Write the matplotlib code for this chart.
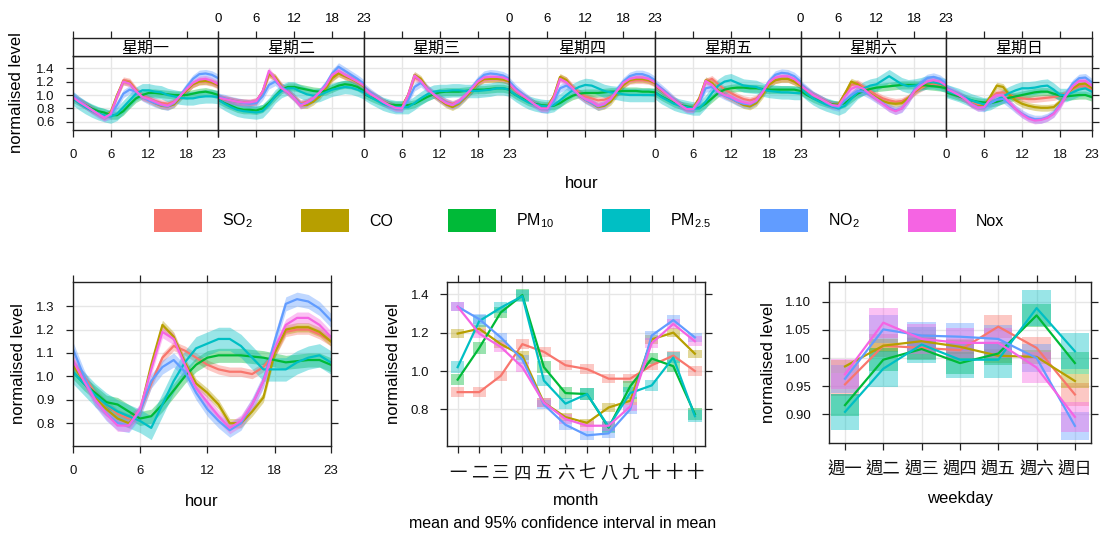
import matplotlib.pyplot as plt
from matplotlib.patches import Rectangle
import numpy as np

plt.rcParams['font.family'] = ['Liberation Sans', 'Noto Sans CJK TC', 'DejaVu Sans']
plt.rcParams['mathtext.default'] = 'regular'

# Pollutants and the hue palette used for them
pollutants = ['SO2', 'CO', 'PM10', 'PM2.5', 'NO2', 'Nox']
legend_labels = [r'SO$_2$', 'CO', r'PM$_{10}$', r'PM$_{2.5}$', r'NO$_2$', 'Nox']
colours = ['#F8766D', '#B79F00', '#00BA38', '#00BFC4', '#619CFF', '#F564E3']

hours = list(range(24))
day_names = ['星期一', '星期二', '星期三', '星期四', '星期五', '星期六', '星期日']
month_labels = ['一', '二', '三', '四', '五', '六', '七', '八', '九', '十', '十', '十']
weekday_labels = ['週一', '週二', '週三', '週四', '週五', '週六', '週日']

# Normalised level by hour of day, one 24-value list per weekday (Mon..Sun)
so2_by_day = [
    [0.98, 0.92, 0.86, 0.80, 0.74, 0.69, 0.74, 0.98, 1.22, 1.20, 1.08, 0.99, 0.95, 0.91, 0.88, 0.87, 0.90, 0.98, 1.08, 1.16, 1.20, 1.20, 1.18, 1.14],
    [0.96, 0.94, 0.92, 0.90, 0.89, 0.89, 0.91, 1.04, 1.30, 1.26, 1.14, 1.06, 0.97, 0.88, 0.90, 0.95, 1.02, 1.12, 1.26, 1.33, 1.28, 1.24, 1.19, 1.13],
    [1.10, 1.03, 0.97, 0.91, 0.86, 0.83, 0.83, 1.00, 1.26, 1.22, 1.10, 1.02, 0.96, 0.90, 0.87, 0.90, 0.98, 1.07, 1.18, 1.23, 1.24, 1.24, 1.23, 1.20],
    [1.15, 1.06, 1.00, 0.93, 0.87, 0.83, 0.83, 0.98, 1.26, 1.22, 1.12, 1.04, 0.98, 0.95, 0.92, 0.93, 0.97, 1.05, 1.15, 1.21, 1.22, 1.22, 1.21, 1.17],
    [1.14, 1.07, 1.00, 0.93, 0.86, 0.81, 0.81, 0.95, 1.20, 1.24, 1.16, 1.08, 1.03, 0.98, 0.94, 0.92, 0.95, 1.04, 1.15, 1.22, 1.24, 1.24, 1.20, 1.14],
    [1.13, 1.06, 1.00, 0.95, 0.90, 0.85, 0.86, 1.02, 1.15, 1.18, 1.12, 1.06, 1.00, 0.95, 0.92, 0.90, 0.91, 0.96, 1.04, 1.10, 1.15, 1.17, 1.15, 1.10],
    [1.08, 1.04, 1.00, 0.95, 0.89, 0.85, 0.86, 0.95, 1.03, 1.04, 1.00, 0.97, 0.95, 0.94, 0.94, 0.95, 0.96, 0.97, 0.99, 1.03, 1.09, 1.13, 1.13, 1.08],
]
co_by_day = [
    [0.98, 0.90, 0.84, 0.78, 0.73, 0.68, 0.74, 1.00, 1.20, 1.18, 1.06, 0.97, 0.93, 0.88, 0.84, 0.83, 0.86, 0.96, 1.07, 1.16, 1.20, 1.21, 1.19, 1.15],
    [0.96, 0.94, 0.92, 0.90, 0.89, 0.88, 0.90, 1.05, 1.32, 1.26, 1.12, 1.04, 0.96, 0.85, 0.85, 0.90, 0.98, 1.10, 1.25, 1.32, 1.28, 1.24, 1.19, 1.13],
    [1.10, 1.02, 0.96, 0.90, 0.86, 0.82, 0.82, 1.00, 1.30, 1.24, 1.10, 1.00, 0.93, 0.86, 0.82, 0.87, 0.96, 1.06, 1.18, 1.24, 1.24, 1.24, 1.23, 1.20],
    [1.16, 1.07, 1.00, 0.93, 0.87, 0.82, 0.82, 0.98, 1.27, 1.22, 1.10, 1.00, 0.93, 0.88, 0.82, 0.84, 0.90, 1.02, 1.15, 1.22, 1.24, 1.24, 1.22, 1.18],
    [1.14, 1.07, 1.00, 0.92, 0.85, 0.80, 0.80, 0.95, 1.22, 1.18, 1.07, 1.00, 0.95, 0.90, 0.85, 0.83, 0.88, 1.00, 1.15, 1.22, 1.24, 1.24, 1.20, 1.14],
    [1.13, 1.06, 1.00, 0.95, 0.90, 0.86, 0.86, 1.02, 1.20, 1.16, 1.08, 1.02, 0.96, 0.91, 0.88, 0.87, 0.88, 0.95, 1.05, 1.12, 1.17, 1.19, 1.17, 1.12],
    [1.08, 1.04, 1.00, 0.94, 0.87, 0.83, 0.84, 0.98, 1.14, 1.12, 1.00, 0.92, 0.87, 0.84, 0.82, 0.81, 0.81, 0.82, 0.90, 1.00, 1.10, 1.16, 1.17, 1.11],
]
pm10_by_day = [
    [0.95, 0.90, 0.85, 0.80, 0.76, 0.74, 0.70, 0.70, 0.76, 0.86, 0.95, 1.00, 1.03, 1.03, 1.02, 1.01, 1.00, 1.00, 1.00, 1.02, 1.04, 1.05, 1.03, 1.00],
    [0.93, 0.88, 0.84, 0.80, 0.78, 0.78, 0.77, 0.80, 0.88, 0.98, 1.08, 1.12, 1.12, 1.10, 1.08, 1.06, 1.05, 1.06, 1.10, 1.14, 1.16, 1.15, 1.12, 1.06],
    [1.02, 0.97, 0.93, 0.89, 0.86, 0.85, 0.85, 0.85, 0.87, 0.92, 0.97, 1.01, 1.04, 1.05, 1.05, 1.05, 1.06, 1.07, 1.08, 1.08, 1.09, 1.10, 1.10, 1.08],
    [1.06, 1.00, 0.95, 0.90, 0.87, 0.85, 0.84, 0.84, 0.88, 0.94, 0.99, 1.02, 1.03, 1.03, 1.03, 1.04, 1.05, 1.05, 1.06, 1.06, 1.06, 1.05, 1.05, 1.04],
    [1.04, 0.98, 0.93, 0.88, 0.85, 0.83, 0.81, 0.81, 0.87, 0.95, 1.03, 1.08, 1.10, 1.11, 1.11, 1.10, 1.10, 1.09, 1.08, 1.08, 1.08, 1.08, 1.08, 1.06],
    [1.06, 1.00, 0.95, 0.91, 0.88, 0.86, 0.85, 0.88, 0.95, 1.02, 1.06, 1.09, 1.11, 1.12, 1.13, 1.14, 1.15, 1.15, 1.15, 1.15, 1.14, 1.13, 1.12, 1.10],
    [1.04, 1.01, 0.98, 0.95, 0.92, 0.90, 0.89, 0.88, 0.90, 0.93, 0.96, 0.98, 1.00, 1.02, 1.04, 1.05, 1.05, 1.02, 0.99, 0.98, 0.99, 1.00, 1.00, 0.97],
]
pm25_by_day = [
    [0.95, 0.88, 0.82, 0.77, 0.73, 0.70, 0.68, 0.72, 0.82, 0.92, 1.02, 1.07, 1.07, 1.05, 1.04, 1.00, 0.98, 0.96, 0.95, 0.95, 0.97, 0.98, 0.98, 0.97],
    [0.93, 0.87, 0.82, 0.78, 0.76, 0.75, 0.74, 0.76, 0.86, 0.98, 1.06, 1.10, 1.10, 1.05, 1.01, 0.99, 1.00, 1.04, 1.08, 1.10, 1.12, 1.11, 1.08, 1.04],
    [1.03, 0.97, 0.92, 0.87, 0.84, 0.82, 0.82, 0.82, 0.88, 0.95, 1.01, 1.05, 1.06, 1.06, 1.07, 1.07, 1.06, 1.06, 1.06, 1.07, 1.08, 1.10, 1.10, 1.08],
    [1.07, 1.00, 0.94, 0.89, 0.86, 0.84, 0.83, 0.85, 0.92, 1.00, 1.07, 1.12, 1.15, 1.14, 1.10, 1.06, 1.04, 1.03, 1.01, 1.00, 1.00, 1.00, 1.00, 1.00],
    [1.04, 0.97, 0.92, 0.87, 0.84, 0.82, 0.80, 0.80, 0.90, 1.03, 1.14, 1.20, 1.22, 1.18, 1.14, 1.13, 1.12, 1.08, 1.06, 1.05, 1.04, 1.04, 1.03, 1.03],
    [1.10, 1.02, 0.95, 0.90, 0.86, 0.83, 0.80, 0.84, 0.94, 1.04, 1.10, 1.14, 1.16, 1.22, 1.28, 1.22, 1.16, 1.13, 1.14, 1.16, 1.19, 1.19, 1.17, 1.14],
    [1.06, 1.03, 1.00, 0.96, 0.92, 0.89, 0.86, 0.88, 0.93, 0.98, 1.03, 1.07, 1.10, 1.10, 1.11, 1.13, 1.14, 1.08, 1.00, 1.00, 1.04, 1.08, 1.10, 1.05],
]
no2_by_day = [
    [1.00, 0.92, 0.85, 0.78, 0.72, 0.67, 0.70, 0.85, 1.02, 1.08, 1.05, 0.97, 0.92, 0.88, 0.85, 0.83, 0.88, 0.99, 1.12, 1.24, 1.31, 1.32, 1.30, 1.25],
    [0.97, 0.95, 0.92, 0.90, 0.88, 0.87, 0.88, 0.98, 1.15, 1.20, 1.12, 1.05, 0.96, 0.86, 0.88, 0.94, 1.04, 1.16, 1.32, 1.42, 1.36, 1.30, 1.24, 1.17],
    [1.12, 1.04, 0.97, 0.90, 0.84, 0.80, 0.80, 0.92, 1.12, 1.18, 1.10, 1.02, 0.95, 0.89, 0.85, 0.89, 0.98, 1.10, 1.22, 1.30, 1.32, 1.31, 1.29, 1.24],
    [1.20, 1.10, 1.02, 0.94, 0.86, 0.80, 0.79, 0.90, 1.10, 1.14, 1.08, 1.00, 0.93, 0.88, 0.83, 0.86, 0.94, 1.08, 1.20, 1.28, 1.31, 1.31, 1.28, 1.22],
    [1.18, 1.10, 1.02, 0.93, 0.85, 0.79, 0.78, 0.88, 1.10, 1.12, 1.04, 0.99, 0.95, 0.90, 0.87, 0.86, 0.91, 1.05, 1.20, 1.30, 1.33, 1.32, 1.28, 1.20],
    [1.16, 1.08, 1.00, 0.95, 0.89, 0.84, 0.82, 0.92, 1.00, 1.06, 1.05, 1.00, 0.94, 0.88, 0.81, 0.77, 0.80, 0.92, 1.08, 1.18, 1.25, 1.27, 1.24, 1.17],
    [1.10, 1.06, 1.01, 0.95, 0.87, 0.82, 0.81, 0.88, 0.93, 0.94, 0.87, 0.79, 0.72, 0.67, 0.64, 0.64, 0.67, 0.73, 0.86, 1.03, 1.17, 1.25, 1.26, 1.19],
]
nox_by_day = [
    [0.97, 0.90, 0.84, 0.78, 0.72, 0.66, 0.72, 0.98, 1.20, 1.17, 1.06, 0.97, 0.94, 0.90, 0.86, 0.84, 0.89, 0.99, 1.09, 1.18, 1.23, 1.24, 1.21, 1.16],
    [0.96, 0.94, 0.92, 0.90, 0.89, 0.89, 0.91, 1.05, 1.36, 1.24, 1.10, 1.04, 0.95, 0.84, 0.89, 0.95, 1.04, 1.14, 1.30, 1.36, 1.30, 1.25, 1.20, 1.14],
    [1.10, 1.02, 0.96, 0.90, 0.85, 0.81, 0.80, 1.00, 1.29, 1.21, 1.09, 1.01, 0.94, 0.88, 0.85, 0.91, 0.99, 1.09, 1.20, 1.26, 1.27, 1.27, 1.26, 1.22],
    [1.17, 1.07, 1.00, 0.93, 0.86, 0.80, 0.80, 0.96, 1.24, 1.19, 1.10, 1.00, 0.94, 0.90, 0.84, 0.87, 0.94, 1.06, 1.18, 1.24, 1.26, 1.26, 1.24, 1.19],
    [1.15, 1.08, 1.00, 0.92, 0.85, 0.79, 0.79, 0.92, 1.21, 1.15, 1.05, 1.00, 0.97, 0.92, 0.89, 0.87, 0.92, 1.04, 1.19, 1.26, 1.28, 1.28, 1.24, 1.16],
    [1.14, 1.07, 1.00, 0.95, 0.90, 0.85, 0.84, 0.98, 1.09, 1.13, 1.09, 1.01, 0.94, 0.87, 0.80, 0.76, 0.80, 0.92, 1.06, 1.14, 1.20, 1.22, 1.20, 1.14],
    [1.09, 1.05, 1.00, 0.94, 0.86, 0.81, 0.82, 0.94, 1.00, 0.99, 0.89, 0.79, 0.71, 0.65, 0.62, 0.63, 0.66, 0.72, 0.84, 1.00, 1.13, 1.21, 1.21, 1.14],
]

# Normalised level by hour of day, all days together
so2_hour = [1.06, 1.00, 0.93, 0.88, 0.84, 0.82, 0.85, 0.97, 1.08, 1.13, 1.11, 1.08, 1.05, 1.03, 1.02, 1.02, 1.01, 1.04, 1.10, 1.19, 1.20, 1.20, 1.18, 1.15]
co_hour = [1.05, 0.98, 0.91, 0.86, 0.82, 0.80, 0.85, 1.05, 1.22, 1.17, 1.06, 0.97, 0.93, 0.88, 0.80, 0.80, 0.85, 0.91, 1.10, 1.20, 1.21, 1.21, 1.19, 1.15]
pm10_hour = [1.02, 0.97, 0.93, 0.89, 0.88, 0.85, 0.82, 0.83, 0.88, 0.94, 1.00, 1.05, 1.08, 1.09, 1.09, 1.09, 1.085, 1.08, 1.07, 1.06, 1.065, 1.07, 1.07, 1.05]
pm25_hour = [1.02, 0.97, 0.92, 0.88, 0.85, 0.83, 0.81, 0.78, 0.88, 0.98, 1.06, 1.12, 1.14, 1.16, 1.16, 1.13, 1.08, 1.03, 1.03, 1.03, 1.06, 1.08, 1.09, 1.06]
no2_hour = [1.12, 1.00, 0.90, 0.84, 0.80, 0.79, 0.85, 0.98, 1.04, 1.07, 1.02, 0.93, 0.86, 0.81, 0.77, 0.80, 0.88, 0.98, 1.15, 1.31, 1.33, 1.32, 1.29, 1.24]
nox_hour = [1.07, 0.98, 0.90, 0.84, 0.79, 0.79, 0.86, 1.03, 1.19, 1.16, 1.05, 0.95, 0.89, 0.83, 0.78, 0.81, 0.88, 0.98, 1.12, 1.22, 1.25, 1.25, 1.22, 1.17]

# Normalised level by month (Jan..Dec)
so2_month = [0.89, 0.89, 0.975, 1.14, 1.10, 1.03, 1.01, 0.96, 0.96, 1.03, 1.08, 1.00]
co_month = [1.195, 1.22, 1.14, 1.08, 0.835, 0.76, 0.73, 0.81, 0.845, 1.165, 1.20, 1.09]
pm10_month = [0.955, 1.12, 1.305, 1.395, 1.02, 0.885, 0.88, 0.705, 0.92, 1.065, 1.025, 0.775]
pm25_month = [1.02, 1.26, 1.33, 1.39, 0.95, 0.83, 0.88, 0.71, 0.885, 0.925, 1.07, 0.765]
no2_month = [1.335, 1.27, 1.175, 1.06, 0.825, 0.72, 0.665, 0.675, 0.80, 1.185, 1.265, 1.175]
nox_month = [1.335, 1.195, 1.125, 1.02, 0.835, 0.75, 0.715, 0.715, 0.815, 1.145, 1.245, 1.155]

# Normalised level by weekday (Mon..Sun)
so2_wday = [0.953, 1.022, 1.018, 1.014, 1.056, 1.018, 0.935]
co_wday = [0.985, 1.022, 1.030, 1.020, 1.004, 1.002, 0.959]
pm10_wday = [0.916, 0.997, 1.016, 0.991, 1.008, 1.076, 0.991]
pm25_wday = [0.904, 0.981, 1.024, 0.997, 0.997, 1.089, 1.012]
no2_wday = [0.963, 1.051, 1.040, 1.038, 1.034, 1.000, 0.879]
nox_wday = [0.971, 1.063, 1.034, 1.027, 1.027, 0.983, 0.895]

# Half-width of the 95% confidence interval for each pollutant
ci_by_day = [0.05, 0.05, 0.06, 0.10, 0.06, 0.05]
ci_hour = [0.02, 0.02, 0.03, 0.05, 0.03, 0.025]
ci_month = [0.025, 0.022, 0.03, 0.03, 0.025, 0.025]
ci_wday = [0.02, 0.012, 0.02, 0.032, 0.025, 0.027]

by_day = [so2_by_day, co_by_day, pm10_by_day, pm25_by_day, no2_by_day, nox_by_day]
by_hour = [so2_hour, co_hour, pm10_hour, pm25_hour, no2_hour, nox_hour]
by_month = [so2_month, co_month, pm10_month, pm25_month, no2_month, nox_month]
by_wday = [so2_wday, co_wday, pm10_wday, pm25_wday, no2_wday, nox_wday]

W, H = 1105, 535
fig = plt.figure(figsize=(W / 100, H / 100), dpi=100)

AX_COL = '#222222'
GRID_COL = '#E6E6E6'
TICK_FS = 9.5
LAB_FS = 12
CJK = ['Noto Sans CJK TC', 'DejaVu Sans']


def px_box(x0, y0, x1, y1):
    """axes rect from pixel edges measured from the top-left corner"""
    return [x0 / W, 1 - y1 / H, (x1 - x0) / W, (y1 - y0) / H]


def style_frame(ax):
    for s in ax.spines.values():
        s.set_color(AX_COL)
        s.set_linewidth(1.0)
    ax.tick_params(direction='out', length=5, width=0.9, color=AX_COL,
                   labelsize=TICK_FS, labelcolor='#111111')
    ax.tick_params(axis='x', pad=9)
    ax.tick_params(axis='y', pad=8)
    ax.grid(True, color=GRID_COL, lw=1.0)
    ax.set_axisbelow(True)


def band_line(ax, x, mean, half, col):
    x = np.asarray(x)
    m = np.asarray(mean)
    ax.fill_between(x, m - half, m + half, color=col, alpha=0.4, lw=0)
    ax.plot(x, m, color=col, lw=1.6)


def box_line(ax, x, mean, half, col, width):
    for xi, mi in zip(x, mean):
        ax.add_patch(Rectangle((xi - width, mi - half), 2 * width, 2 * half,
                               facecolor=col, alpha=0.4, lw=0))
    ax.plot(x, mean, color=col, lw=1.6)


# ---- hour of day by weekday (top row) ----
left, right = 72.7, 1091.7
pw = (right - left) / 7
hour_ticks = [0, 6, 12, 18, 23]
for d in range(7):
    x0, x1 = left + d * pw, left + (d + 1) * pw
    ax = fig.add_axes(px_box(x0, 56, x1, 130))
    style_frame(ax)
    for k in range(6):
        band_line(ax, hours, by_day[k][d], ci_by_day[k], colours[k])
    ax.set_xlim(0, 23)
    ax.set_ylim(0.48, 1.58)
    ax.set_xticks(hour_ticks)
    ax.set_yticks([0.6, 0.8, 1.0, 1.2, 1.4])
    ax.set_yticklabels(['0.6', '0.8', '1.0', '1.2', '1.4'])
    ax.tick_params(axis='x', labelbottom=(d % 2 == 0))
    ax.tick_params(axis='y', left=(d == 0), labelleft=(d == 0),
                   right=(d == 6), labelright=False)

    strip = fig.add_axes(px_box(x0, 38, x1, 56))
    for s in strip.spines.values():
        s.set_color(AX_COL)
        s.set_linewidth(1.0)
    strip.set_xlim(0, 23)
    strip.set_ylim(0, 1)
    strip.set_yticks([])
    strip.set_xticks(hour_ticks)
    strip.tick_params(axis='x', direction='out', length=5, width=0.9, color=AX_COL,
                      bottom=False, labelbottom=False, top=True,
                      labeltop=(d % 2 == 1), labelsize=TICK_FS, pad=4)
    strip.text(11.5, 0.45, day_names[d], ha='center', va='center', fontsize=11.5,
               family=CJK)

fig.text(582 / W, 1 - 184 / H, 'hour', ha='center', va='center', fontsize=LAB_FS)
fig.text(17 / W, 1 - 93 / H, 'normalised level', ha='center', va='center',
         rotation=90, fontsize=LAB_FS)

# ---- legend ----
rect_x = [154, 301, 447.5, 602.4, 760.3, 907.8]
for k in range(6):
    fig.patches.append(Rectangle((rect_x[k] / W, 1 - 232 / H), 48 / W, 23 / H,
                                 transform=fig.transFigure, facecolor=colours[k],
                                 edgecolor='none'))
    fig.text((rect_x[k] + 68) / W, 1 - 221 / H, legend_labels[k], ha='left',
             va='center', fontsize=11.5)

# ---- hour of day (bottom left) ----
ax = fig.add_axes(px_box(72.7, 282.3, 330.7, 445.7))
style_frame(ax)
for k in range(6):
    band_line(ax, hours, by_hour[k], ci_hour[k], colours[k])
ax.set_xlim(0, 23)
ax.set_ylim(0.704, 1.402)
ax.set_xticks(hour_ticks)
ax.set_yticks([0.8, 0.9, 1.0, 1.1, 1.2, 1.3])
ax.set_yticklabels(['0.8', '0.9', '1.0', '1.1', '1.2', '1.3'])
ax.tick_params(top=True, right=True)
ax.set_xlabel('hour', fontsize=LAB_FS, labelpad=12)
ax.set_ylabel('normalised level', fontsize=LAB_FS, labelpad=7)

# ---- month (bottom middle) ----
months = list(range(1, 13))
ax = fig.add_axes(px_box(447.3, 282.3, 705, 445.7))
style_frame(ax)
for k in range(6):
    box_line(ax, months, by_month[k], ci_month[k], colours[k], 0.31)
ax.set_xlim(0.52, 12.47)
ax.set_ylim(0.611, 1.462)
ax.set_xticks(months)
ax.set_xticklabels(month_labels, fontsize=12.5, family=CJK)
ax.set_yticks([0.8, 1.0, 1.2, 1.4])
ax.set_yticklabels(['0.8', '1.0', '1.2', '1.4'])
ax.tick_params(top=True, right=True)
ax.tick_params(axis='x', pad=8)
ax.set_xlabel('month', fontsize=LAB_FS, labelpad=8)
ax.set_ylabel('normalised level', fontsize=LAB_FS, labelpad=7)

# ---- weekday (bottom right) ----
wd = list(range(1, 8))
ax = fig.add_axes(px_box(829.3, 282.3, 1091, 442.7))
style_frame(ax)
for k in range(6):
    box_line(ax, wd, by_wday[k], ci_wday[k], colours[k], 0.37)
ax.set_xlim(0.59, 7.42)
ax.set_ylim(0.849, 1.135)
ax.set_xticks(wd)
ax.set_xticklabels(weekday_labels, fontsize=12.5, family=CJK)
ax.set_yticks([0.90, 0.95, 1.00, 1.05, 1.10])
ax.set_yticklabels(['0.90', '0.95', '1.00', '1.05', '1.10'])
ax.tick_params(top=True, right=True)
ax.tick_params(axis='x', pad=8)
ax.set_xlabel('weekday', fontsize=LAB_FS, labelpad=9)
ax.set_ylabel('normalised level', fontsize=LAB_FS, labelpad=7)

fig.text(563 / W, 1 - 524 / H, 'mean and 95% confidence interval in mean',
         ha='center', va='center', fontsize=11.5)

fig.savefig('out.png', dpi=100)
